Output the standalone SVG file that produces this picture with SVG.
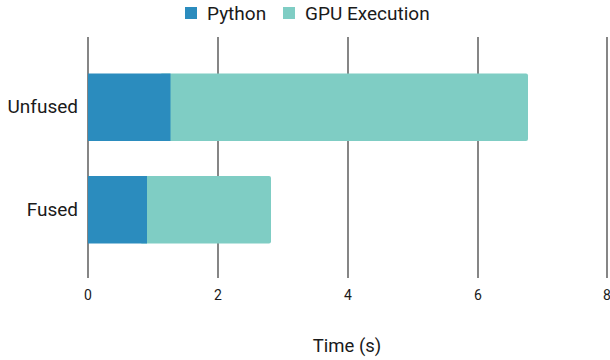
<svg xmlns="http://www.w3.org/2000/svg" width="610" height="360" viewBox="0 0 610 360">
<style>
text{font-family:Roboto,"Liberation Sans",sans-serif;fill:#1a1a1a}
.lg{font-size:19px}
.tk{font-size:14px;text-anchor:middle}
.cat{font-size:19px;text-anchor:end}
.grid{stroke:#444;stroke-width:1.3}
.py{fill:#2b8cbe}
.gpu{fill:#7fcdc4}
</style>
<rect width="610" height="360" fill="#fff"/>
<g id="legend">
<rect class="py" x="185" y="7" width="12" height="12"/>
<text class="lg" x="207" y="20">Python</text>
<rect class="gpu" x="283" y="7" width="12" height="12"/>
<text class="lg" x="305" y="20">GPU Execution</text>
</g>
<g id="grid">
<line class="grid" x1="88" y1="37" x2="88" y2="278" stroke="#777"/>
<line class="grid" x1="218" y1="37" x2="218" y2="278"/>
<line class="grid" x1="348" y1="37" x2="348" y2="278"/>
<line class="grid" x1="478" y1="37" x2="478" y2="278"/>
<line class="grid" x1="607" y1="37" x2="607" y2="278"/>
</g>
<g id="ticks">
<text class="tk" x="88" y="300">0</text>
<text class="tk" x="218" y="300">2</text>
<text class="tk" x="348" y="300">4</text>
<text class="tk" x="478" y="300">6</text>
<text class="tk" x="607" y="300">8</text>
</g>
<g id="unfused">
<text class="cat" x="78" y="113">Unfused</text>
<rect class="gpu" x="160" y="73.5" width="368" height="67.5" rx="2"/>
<rect class="py" x="88" y="73.5" width="82.5" height="67.5"/>
</g>
<g id="fused">
<text class="cat" x="78" y="216">Fused</text>
<rect class="gpu" x="140" y="176" width="131" height="67.5" rx="2"/>
<rect class="py" x="88" y="176" width="59" height="67.5"/>
</g>
<text id="xlabel" x="347" y="352" font-size="18.5" text-anchor="middle">Time (s)</text>
</svg>
